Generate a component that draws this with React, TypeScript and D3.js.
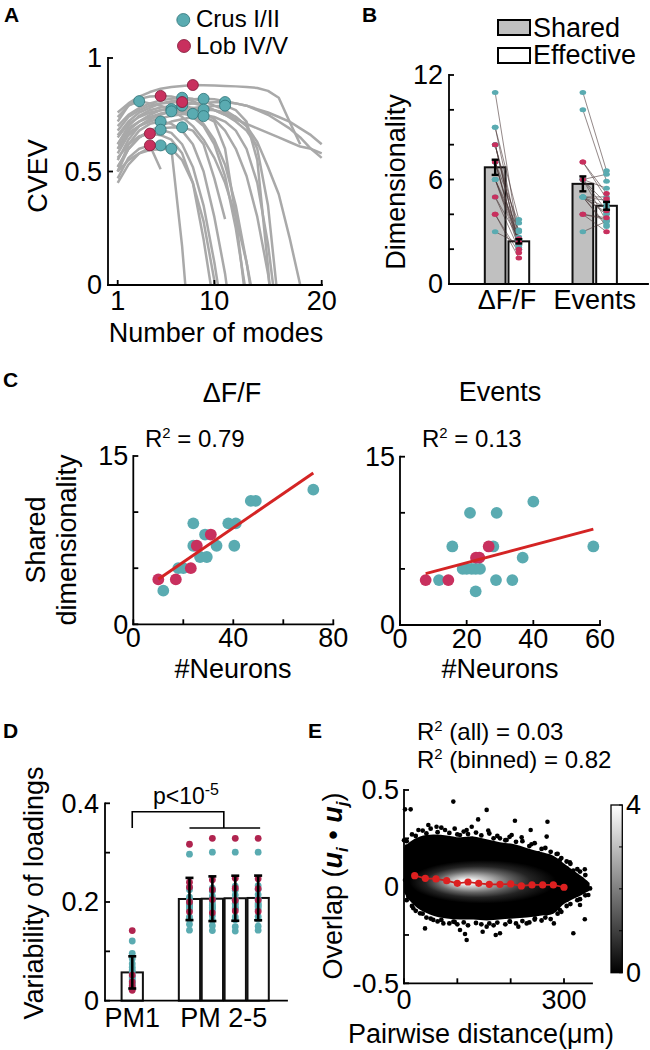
import React from "react";
import * as d3 from "d3";

const FONT = "'Liberation Sans', Arial, Helvetica, sans-serif";
const TEAL = "#5aabb1";
const TEAL_EDGE = "#2f7479";
const RED = "#c8305e";
const RED_EDGE = "#7e1636";
const RED_D = "#b0244f";
const GRAY = "#a9a9a9";
const FIT = "#d42424";
const SW = 1.8;
const FS = 27;

// ---------------- Panel A data ----------------
const regionA = ["c","r","r","c","c","r","c","c","c","c","c","c","c","c","c","c","c","r","r","c","c"];
const cvevCurves: number[][] = [
  [0.72,0.79,0.81,0.80,0.79,0.77,0.74,0.70,0.64,0.56,0.45,0.30,0.10,-0.15],
  [0.74,0.79,0.82,0.83,0.833,0.83,0.82,0.81,0.79,0.77,0.75,0.73,0.71,0.69,0.67,0.65,0.63,0.61,0.60,0.58],
  [0.76,0.80,0.83,0.85,0.865,0.872,0.877,0.881,0.880,0.879,0.877,0.875,0.872,0.868,0.855,0.825,0.72,0.62],
  [0.70,0.75,0.78,0.80,0.813,0.821,0.825,0.82,0.81,0.79,0.77,0.74,0.70,0.63,0.52,0.40,0.21,0.0,-0.2],
  [0.62,0.70,0.745,0.77,0.782,0.788,0.79,0.78,0.76,0.73,0.68,0.60,0.48,0.30,0.05,-0.3],
  [0.68,0.74,0.77,0.79,0.80,0.804,0.806,0.80,0.79,0.77,0.75,0.72,0.68,0.61],
  [0.66,0.72,0.76,0.78,0.80,0.81,0.815,0.818,0.82,0.818,0.81,0.80,0.79,0.775,0.76,0.74,0.72,0.69,0.66,0.62],
  [0.60,0.68,0.72,0.75,0.77,0.78,0.79,0.80,0.803,0.805,0.806,0.80,0.79,0.77,0.75,0.72,0.69,0.65,0.60,0.56],
  [0.58,0.66,0.70,0.73,0.75,0.765,0.775,0.78,0.785,0.788,0.79,0.77,0.72,0.55,0.08,-0.5],
  [0.65,0.71,0.74,0.76,0.77,0.775,0.77,0.75,0.71,0.64,0.53,0.35,0.10,-0.2],
  [0.55,0.64,0.70,0.73,0.755,0.765,0.76,0.74,0.70,0.62,0.48,0.25,-0.05],
  [0.60,0.67,0.70,0.72,0.735,0.745,0.752,0.754,0.75,0.74,0.72,0.68,0.60,0.45,0.18,-0.2],
  [0.62,0.69,0.72,0.74,0.755,0.763,0.768,0.771,0.773,0.77,0.76,0.74,0.70,0.60,0.35,-0.1],
  [0.50,0.60,0.65,0.68,0.70,0.72,0.73,0.74,0.744,0.72,0.60,0.30,-0.1],
  [0.50,0.62,0.68,0.71,0.72,0.71,0.68,0.62,0.50,0.30,0.05,-0.3],
  [0.52,0.60,0.65,0.675,0.684,0.67,0.62,0.52,0.35,0.10,-0.2],
  [0.52,0.60,0.65,0.68,0.69,0.694,0.695,0.68,0.62,0.47,0.29],
  [0.56,0.62,0.655,0.667,0.66,0.64,0.58,0.45,0.20,-0.1],
  [0.47,0.56,0.60,0.615,0.51],
  [0.45,0.53,0.58,0.605,0.615,0.60,0.55,0.45,0.28,0.02,-0.3],
  [0.50,0.55,0.58,0.595,0.598,0.60,0.17,-0.4],
];
const aXTicks = [1, 10, 20];
const aYTicks = [0, 0.5, 1];
const aYLabels = ["0", "0.5", "1"];

// ---------------- Panel B data ----------------
const bGroups = ["ΔF/F", "Events"];
const regionBdff = ["c","c","c","r","c","c","r","c","c","c","c","c","c","c","r","c","r","r","c","c"];
const dffShared = [11,9,9,8,8,8,7,7,7,7,6,6,6,6,5,5,4,4,3,8];
const dffEffective = [2.5,2.5,3.7,2.4,3.0,2.2,2.0,3.5,2.2,2.3,3.1,2.7,2.1,2.4,2.6,2.0,1.5,1.8,2.3,2.2];
const regionBev = ["c","c","r","r","c","c","r","c","c","c","c","c","c","c","c","c","r","r","c","c"];
const evShared = [11,10,7,7,6,6,6,6,6,5,5,5,5,5,5,5,4,4,4,3];
const evEffective = [6.5,5.9,5.2,4.9,6.3,5.5,4.2,4.6,3.6,4.8,4.0,3.4,4.4,3.3,5.0,4.1,3.8,3.0,3.7,3.6];
const bYTicks = [0,2,4,6,8,10,12];
const bYLabels = [0,6,12];

// ---------------- Panel C data ----------------
const dffNeurons = [72,47,49,24,38,41,28.7,31,24,25.4,33.3,40.4,26.7,29.4,18,20,23,10,17,12];
const dffSharedC = [12,11,11,9,9,9,8,8,7,7,7,7,6,6,5,5,5,4,4,3];
const dffRegionC = ["c","c","c","c","c","c","c","r","c","r","c","c","c","c","c","c","r","r","r","c"];
const evNeurons = [40,21,29,15.7,28,58,36.8,18.8,20,21.5,22.7,24,11.7,28.8,33.7,22.7,26.6,22.8,23.8,7.7,14.5];
const evSharedC = [11,10,10,7,7,7,6,5,5,5,5,5,4,4,4,3,7,6,6,4,4];
const evRegionC = ["c","c","c","c","c","c","c","c","c","c","c","c","c","c","c","c","r","r","r","r","r"];
const cYTicks = [0,5,10,15];
const cYLabels = [0,15];
const cLeftXTicks = [0,20,40,60,80];
const cLeftXLabels = [0,40,80];
const cRightXTicks = [0,20,40,60];
const r2Dff = "0.79";
const r2Ev = "0.13";

// ---------------- Panel D data ----------------
const pmNames = ["PM1","PM2","PM3","PM4","PM5"];
const pmPos = [1, 3.5, 4.5, 5.5, 6.5];
const regionD = ["r","c","r","c","c","c","r","c","c","c","c","r","c","c","c","r","c","c","c","c"];
const pm1 = [0.142,0.121,0.052,0.096,0.085,0.075,0.038,0.068,0.062,0.058,0.050,0.021,0.047,0.044,0.040,0.030,0.035,0.032,0.027,0.024];
const pm2 = [0.317,0.297,0.240,0.230,0.225,0.210,0.230,0.200,0.195,0.190,0.205,0.200,0.195,0.190,0.185,0.180,0.170,0.165,0.155,0.143];
const pm3 = [0.329,0.301,0.245,0.228,0.222,0.212,0.225,0.202,0.196,0.188,0.207,0.205,0.193,0.189,0.184,0.178,0.172,0.163,0.152,0.142];
const pm4 = [0.329,0.301,0.248,0.232,0.224,0.214,0.228,0.203,0.197,0.190,0.206,0.203,0.196,0.188,0.186,0.182,0.170,0.164,0.150,0.141];
const pm5 = [0.329,0.301,0.247,0.233,0.226,0.215,0.227,0.204,0.198,0.192,0.207,0.204,0.195,0.190,0.185,0.181,0.171,0.165,0.151,0.143];
const dYTicks = [0,0.1,0.2,0.3,0.4];
const dYLabels = [0,0.2,0.4];
const sigBracket = [0.35, 0.383];

// ---------------- Panel E data ----------------
const binDist = [20,40,60,80,100,120,140,160,180,200,220,240,260,280,300];
const binOverlap = [0.057,0.043,0.040,0.031,0.017,0.024,0.017,0.012,0.012,0.014,0.004,0.009,0.009,0.009,-0.003];
const cloudX = [0,10,30,55,80,105,130,155,180,205,230,255,280,300,320,335,348];
const cloudTop = [0.20,0.23,0.26,0.27,0.265,0.255,0.26,0.245,0.23,0.22,0.20,0.18,0.16,0.12,0.08,0.05,0.02];
const cloudBottom = [-0.03,-0.07,-0.12,-0.15,-0.165,-0.17,-0.17,-0.175,-0.17,-0.165,-0.16,-0.15,-0.14,-0.09,-0.06,-0.04,-0.02];
const edgeX = [5,15,22,35,42,50,63,70,85,95,100,112,120,135,145,160,168,175,190,198,210,222,235,245,258,265,275,288,295,305,312,325,330,340];
const edgeTop = [0.235,0.27,0.262,0.29,0.275,0.30,0.282,0.305,0.278,0.30,0.27,0.285,0.272,0.28,0.265,0.275,0.25,0.262,0.24,0.258,0.232,0.235,0.21,0.225,0.195,0.20,0.18,0.17,0.148,0.13,0.118,0.09,0.078,0.06];
const edgeBottom = [-0.07,-0.10,-0.125,-0.14,-0.16,-0.165,-0.18,-0.172,-0.19,-0.183,-0.195,-0.185,-0.20,-0.188,-0.195,-0.19,-0.20,-0.186,-0.195,-0.18,-0.19,-0.178,-0.185,-0.17,-0.175,-0.16,-0.168,-0.14,-0.13,-0.10,-0.09,-0.07,-0.065,-0.045];
const outX = [1.9,12.5,92.5,155,139,208,269,237.5,267.5,192.5,220.6,45.6,61,27,117.5,127,158,252,286,311,317.5,339,333,349,335,345.6,330,339,317.5,281,245.6,214.4,180,172,147.5,117.5,114.4,105,73.8,39.4,30,17.5,8,1.9,5,0,77,105,180,201.9,239,292.5,305,317.5,305,292.5,267.5,230,198.8,155,55,92.5];
const outY = [0.40,0.40,0.44,0.397,0.348,0.341,0.336,0.293,0.259,0.241,0.255,0.319,0.31,0.293,0.293,0.31,0.29,0.172,0.169,0.126,0.083,0.09,0.038,-0.009,-0.026,-0.043,-0.095,-0.169,-0.241,-0.19,-0.164,-0.207,-0.241,-0.25,-0.233,-0.276,-0.245,-0.224,-0.19,-0.216,-0.138,-0.112,-0.052,0.034,0.207,0.24,0.293,0.267,0.25,0.267,0.219,0.138,0.095,-0.017,-0.069,-0.121,-0.138,-0.19,-0.181,-0.207,-0.172,-0.181];
const coreCenter = [148, 0.025];
const coreRadius = [138, 0.112];
const eYTicks = [-0.5,-0.25,0,0.25,0.5];
const eYLabels = ["-0.5","0","0.5"];
const eXTicks = [0,100,200,300];
const eXLabels = [0,300];
const cbTicks = [0,1,2,3,4];
const cbLabels = [0,4];

const col = (r: string) => (r === "r" ? RED : TEAL);

function LeftAxis(props: { x: number; y0: number; y1: number; scale: (v: number) => number; ticks: number[]; labels: { v: number; t: string }[]; len?: number; gap?: number; fs?: number }) {
  const { x, y0, y1, scale, ticks, labels, len = 5, gap = 6, fs = FS } = props;
  return (
    <g>
      <line x1={x} x2={x} y1={y0} y2={y1} stroke="#000" strokeWidth={SW} strokeLinecap="square" />
      {ticks.map((v, i) => (
        <line key={"t" + i} x1={x} x2={x + len} y1={scale(v)} y2={scale(v)} stroke="#000" strokeWidth={SW} />
      ))}
      {labels.map((l, i) => (
        <text key={"l" + i} x={x - gap} y={scale(l.v)} dy="0.35em" textAnchor="end" fontSize={fs}>{l.t}</text>
      ))}
    </g>
  );
}

function BottomAxis(props: { y: number; x0: number; x1: number; scale: (v: number) => number; ticks: number[]; labels: { v: number; t: string }[]; len?: number; off?: number; fs?: number }) {
  const { y, x0, x1, scale, ticks, labels, len = 5, off = 25, fs = FS } = props;
  return (
    <g>
      <line x1={x0} x2={x1} y1={y} y2={y} stroke="#000" strokeWidth={SW} strokeLinecap="square" />
      {ticks.map((v, i) => (
        <line key={"t" + i} x1={scale(v)} x2={scale(v)} y1={y} y2={y - len} stroke="#000" strokeWidth={SW} />
      ))}
      {labels.map((l, i) => (
        <text key={"l" + i} x={scale(l.v)} y={y + off} textAnchor="middle" fontSize={fs}>{l.t}</text>
      ))}
    </g>
  );
}

function linFit(xs: number[], ys: number[]) {
  const mx = d3.mean(xs) as number;
  const my = d3.mean(ys) as number;
  let sxy = 0, sxx = 0;
  xs.forEach((x, i) => { sxy += (x - mx) * (ys[i] - my); sxx += (x - mx) * (x - mx); });
  const b = sxy / sxx;
  return { a: my - b * mx, b };
}

function R2Label({ x, y, rest, anchor = "start", fs = 24 }: { x: number; y: number; rest: string; anchor?: string; fs?: number }) {
  return (
    <text x={x} y={y} fontSize={fs} textAnchor={anchor as any}>
      R<tspan fontSize={fs * 0.62} dy={-fs * 0.38}>2</tspan><tspan dy={fs * 0.38}>{rest}</tspan>
    </text>
  );
}

export default function App() {
  // ---------- Panel A ----------
  const xA = d3.scaleLinear().domain([1, 20]).range([117.7, 321.7]);
  const yA = d3.scaleLinear().domain([0, 1]).range([285, 58]);
  const lineA = d3.line<number>().x((_, i) => xA(i + 1)).y((v) => yA(v));
  const peaks = cvevCurves.map((c, k) => {
    const i = d3.maxIndex(c);
    return { x: xA(i + 1), y: yA(c[i]), r: regionA[k] };
  });

  // ---------- Panel B ----------
  const xB = d3.scaleLinear().domain([0, 3]).range([419.3, 682.4]);
  const yB = d3.scaleLinear().domain([0, 12]).range([284, 75]);
  const barW = xB(0.236) - xB(0);
  const off = xB(0.135) - xB(0);
  const sem = (a: number[]) => (d3.deviation(a) as number) / Math.sqrt(a.length);
  const bSets = [
    { g: 1, shared: dffShared, eff: dffEffective, reg: regionBdff },
    { g: 2, shared: evShared, eff: evEffective, reg: regionBev },
  ];

  // ---------- Panel C ----------
  const xC1 = d3.scaleLinear().domain([0, 80]).range([133.3, 333.3]);
  const yC1 = d3.scaleLinear().domain([0, 15]).range([624.3, 456]);
  const xC2 = d3.scaleLinear().domain([0, 60]).range([400, 600]);
  const yC2 = d3.scaleLinear().domain([0, 15]).range([625, 456.7]);
  const fit1 = linFit(dffNeurons, dffSharedC);
  const fit2 = linFit(evNeurons, evSharedC);
  const [f1x0, f1x1] = d3.extent(dffNeurons) as [number, number];
  const [f2x0, f2x1] = d3.extent(evNeurons) as [number, number];

  // ---------- Panel D ----------
  const xD = d3.scaleLinear().domain([-0.19, 7.76]).range([105, 287]);
  const yD = d3.scaleLinear().domain([0, 0.4]).range([1000.7, 803.3]);
  const pms = [pm1, pm2, pm3, pm4, pm5];
  const dBarW = xD(0.93) - xD(0);

  // ---------- Panel E ----------
  const xE = d3.scaleLinear().domain([0, 300]).range([404, 564]);
  const yE = d3.scaleLinear().domain([-0.5, 0.5]).range([983.3, 790]);
  const cloudArea = d3.area<number>()
    .x((_, i) => xE(cloudX[i]))
    .y0((_, i) => yE(cloudBottom[i]))
    .y1((_, i) => yE(cloudTop[i]))
    .curve(d3.curveCatmullRom);
  const binLine = d3.line<number>().x((_, i) => xE(binDist[i])).y((v) => yE(v));
  const cbY = d3.scaleLinear().domain([0, 4]).range([972.7, 805]);

  const redOnTop = <T,>(arr: T[], reg: string[]) => {
    const idx = arr.map((_, i) => i);
    return [...idx.filter((i) => reg[i] !== "r"), ...idx.filter((i) => reg[i] === "r")];
  };

  return (
    <svg width={650} height={1050} viewBox="0 0 650 1050" style={{ position: "absolute", left: 0, top: 0, background: "#fff" }} fontFamily={FONT}>
      <defs>
        <clipPath id="clipA"><rect x={108} y={56} width={216} height={229} /></clipPath>
        <clipPath id="clipCloud"><path d={cloudArea(cloudX) as string} /></clipPath>
        <radialGradient id="coreGrad" cx="0.5" cy="0.5" r="0.5" fx="0.38" fy="0.5">
          <stop offset="0" stopColor="#ffffff" />
          <stop offset="0.12" stopColor="#efefef" />
          <stop offset="0.3" stopColor="#b0b0b0" />
          <stop offset="0.5" stopColor="#646464" />
          <stop offset="0.72" stopColor="#242424" />
          <stop offset="1" stopColor="#000000" />
        </radialGradient>
        <linearGradient id="cbGrad" x1="0" y1="1" x2="0" y2="0">
          <stop offset="0" stopColor="#000" />
          <stop offset="1" stopColor="#fff" />
        </linearGradient>
      </defs>
      <rect x={0} y={0} width={650} height={1050} fill="#fff" />

      {/* ================= Panel A ================= */}
      <text x={4} y={22} fontSize={21} fontWeight="bold">A</text>
      <circle cx={183.3} cy={20} r={6.5} fill={TEAL} stroke={TEAL_EDGE} strokeWidth={0.8} />
      <text x={196} y={27} fontSize={24}>Crus I/II</text>
      <circle cx={184} cy={46} r={6.5} fill={RED} stroke={RED_EDGE} strokeWidth={0.8} />
      <text x={196} y={54} fontSize={24}>Lob IV/V</text>
      <g clipPath="url(#clipA)">
        {cvevCurves.map((c, k) => (
          <path key={k} d={lineA(c) as string} fill="none" stroke={GRAY} strokeWidth={2.5} strokeLinejoin="round" />
        ))}
      </g>
      {redOnTop(peaks, regionA).map((k) => (
        <circle key={k} cx={peaks[k].x} cy={peaks[k].y} r={5.5} fill={col(peaks[k].r)} stroke={peaks[k].r === "r" ? RED_EDGE : TEAL_EDGE} strokeWidth={0.8} />
      ))}
      <LeftAxis x={108} y0={285} y1={58} scale={yA} ticks={aYTicks} labels={aYTicks.map((v, i) => ({ v, t: aYLabels[i] }))} />
      <BottomAxis y={285} x0={108} x1={322} scale={xA} ticks={aXTicks} labels={aXTicks.map((v) => ({ v, t: String(v) }))} />
      <text transform="translate(47,176) rotate(-90)" textAnchor="middle" fontSize={FS}>CVEV</text>
      <text x={216} y={342} textAnchor="middle" fontSize={FS}>Number of modes</text>

      {/* ================= Panel B ================= */}
      <text x={362} y={22} fontSize={21} fontWeight="bold">B</text>
      <rect x={498} y={20} width={32} height={15} fill="#c0c0c0" stroke="#000" strokeWidth={2} />
      <text x={533} y={37} fontSize={FS}>Shared</text>
      <rect x={498} y={48} width={32} height={15} fill="#fff" stroke="#000" strokeWidth={2} />
      <text x={533} y={64} fontSize={FS}>Effective</text>
      {bSets.map((s) => {
        const ms = d3.mean(s.shared) as number;
        const me = d3.mean(s.eff) as number;
        const xs = xB(s.g) - off;
        const xe = xB(s.g) + off;
        const ss = sem(s.shared);
        const se = sem(s.eff);
        return (
          <g key={s.g}>
            <rect x={xs - barW / 2} y={yB(ms)} width={barW} height={yB(0) - yB(ms)} fill="#c0c0c0" stroke="#111" strokeWidth={2} />
            <rect x={xe - barW / 2} y={yB(me)} width={barW} height={yB(0) - yB(me)} fill="#fff" stroke="#111" strokeWidth={2} />
            {s.shared.map((v, i) => (
              <line key={"l" + i} x1={xs} y1={yB(v)} x2={xe} y2={yB(s.eff[i])} stroke="#4b3838" strokeWidth={0.7} opacity={0.85} />
            ))}
            {redOnTop(s.shared, s.reg).map((i) => (
              <g key={"d" + i}>
                <ellipse cx={xs} cy={yB(s.shared[i])} rx={3.3} ry={2.5} fill={col(s.reg[i])} />
                <ellipse cx={xe} cy={yB(s.eff[i])} rx={3.3} ry={2.5} fill={col(s.reg[i])} />
              </g>
            ))}
            {[[xs, ms, ss], [xe, me, se]].map(([x, m, e], j) => (
              <g key={"e" + j} stroke="#000" strokeWidth={2.4}>
                <line x1={x} x2={x} y1={yB(m + e)} y2={yB(m - e)} />
                <line x1={x - 3.5} x2={x + 3.5} y1={yB(m + e)} y2={yB(m + e)} />
                <line x1={x - 3.5} x2={x + 3.5} y1={yB(m - e)} y2={yB(m - e)} />
              </g>
            ))}
          </g>
        );
      })}
      <LeftAxis x={449} y0={284} y1={75} scale={yB} ticks={bYTicks} labels={bYLabels.map((v) => ({ v, t: String(v) }))} />
      <BottomAxis y={284} x0={449} x1={648} scale={xB} ticks={[]} labels={bGroups.map((t, i) => ({ v: i + 1, t }))} />
      <text transform="translate(405,182) rotate(-90)" textAnchor="middle" fontSize={FS}>Dimensionality</text>

      {/* ================= Panel C ================= */}
      <text x={3} y={387} fontSize={21} fontWeight="bold">C</text>
      <text x={232} y={402} textAnchor="middle" fontSize={FS}>ΔF/F</text>
      <text x={500} y={401} textAnchor="middle" fontSize={FS}>Events</text>
      <R2Label x={145} y={447} rest={" = " + r2Dff} />
      <R2Label x={422} y={447} rest={" = " + r2Ev} />
      {redOnTop(dffNeurons, dffRegionC).map((i) => (
        <circle key={"c1" + i} cx={xC1(dffNeurons[i])} cy={yC1(dffSharedC[i])} r={5.9} fill={col(dffRegionC[i])} />
      ))}
      <line x1={xC1(f1x0)} x2={xC1(f1x1)} y1={yC1(fit1.a + fit1.b * f1x0)} y2={yC1(fit1.a + fit1.b * f1x1)} stroke={FIT} strokeWidth={3} />
      <LeftAxis x={133.3} y0={624.3} y1={456} scale={yC1} ticks={cYTicks} labels={cYLabels.map((v) => ({ v, t: String(v) }))} gap={5} />
      <BottomAxis y={624.3} x0={133.3} x1={333.3} scale={xC1} ticks={cLeftXTicks} labels={cLeftXLabels.map((v) => ({ v, t: String(v) }))} off={23} />
      <text transform="translate(45,540) rotate(-90)" textAnchor="middle" fontSize={FS}>Shared</text>
      <text transform="translate(76,540) rotate(-90)" textAnchor="middle" fontSize={FS}>dimensionality</text>
      <text x={233} y={678} textAnchor="middle" fontSize={FS}>#Neurons</text>

      {redOnTop(evNeurons, evRegionC).map((i) => (
        <circle key={"c2" + i} cx={xC2(evNeurons[i])} cy={yC2(evSharedC[i])} r={5.9} fill={col(evRegionC[i])} />
      ))}
      <line x1={xC2(f2x0)} x2={xC2(f2x1)} y1={yC2(fit2.a + fit2.b * f2x0)} y2={yC2(fit2.a + fit2.b * f2x1)} stroke={FIT} strokeWidth={3} />
      <LeftAxis x={400} y0={625} y1={456.7} scale={yC2} ticks={cYTicks} labels={cYLabels.map((v) => ({ v, t: String(v) }))} gap={5} />
      <BottomAxis y={625} x0={400} x1={600} scale={xC2} ticks={cRightXTicks} labels={cRightXTicks.map((v) => ({ v, t: String(v) }))} off={23} />
      <text x={500} y={678} textAnchor="middle" fontSize={FS}>#Neurons</text>

      {/* ================= Panel D ================= */}
      <text x={3} y={738} fontSize={21} fontWeight="bold">D</text>
      {pms.map((vals, k) => {
        const m = d3.mean(vals) as number;
        const sd = d3.deviation(vals) as number;
        const cx = xD(pmPos[k]);
        return (
          <g key={pmNames[k]}>
            <rect x={cx - dBarW / 2} y={yD(m)} width={dBarW} height={yD(0) - yD(m)} fill="#fff" stroke="#111" strokeWidth={2} />
            {redOnTop(vals, regionD).map((i) => (
              <circle key={i} cx={cx} cy={yD(vals[i])} r={3.4} fill={regionD[i] === "r" ? RED_D : TEAL} />
            ))}
            <g stroke="#000" strokeWidth={2.6}>
              <line x1={cx} x2={cx} y1={yD(m + sd)} y2={yD(m - sd)} />
              <line x1={cx - 4} x2={cx + 4} y1={yD(m + sd)} y2={yD(m + sd)} />
              <line x1={cx - 4} x2={cx + 4} y1={yD(m - sd)} y2={yD(m - sd)} />
            </g>
          </g>
        );
      })}
      <path d={`M${xD(pmPos[0])},${yD(sigBracket[0])}V${yD(sigBracket[1])}H${xD((pmPos[1] + pmPos[4]) / 2)}V${yD(sigBracket[0])}`} fill="none" stroke="#000" strokeWidth={1.6} />
      <line x1={xD(pmPos[1])} x2={xD(pmPos[4]) + 2} y1={yD(sigBracket[0])} y2={yD(sigBracket[0])} stroke="#000" strokeWidth={1.6} />
      <text x={186} y={804} textAnchor="middle" fontSize={23}>p&lt;10<tspan fontSize={16} dy={-9}>-5</tspan></text>
      <LeftAxis x={105} y0={1000.7} y1={803.3} scale={yD} ticks={dYTicks} labels={dYLabels.map((v) => ({ v, t: String(v) }))} />
      <BottomAxis y={1000.7} x0={105} x1={287} scale={xD} ticks={[]} labels={[{ v: pmPos[0], t: "PM1" }, { v: (pmPos[1] + pmPos[4]) / 2, t: "PM 2-5" }]} off={26} />
      <text transform="translate(43,893) rotate(-90)" textAnchor="middle" fontSize={FS}>Variability of loadings</text>

      {/* ================= Panel E ================= */}
      <text x={308} y={738} fontSize={21} fontWeight="bold">E</text>
      <R2Label x={417} y={740} rest=" (all) = 0.03" />
      <R2Label x={417} y={768} rest=" (binned) = 0.82" />
      <path d={cloudArea(cloudX) as string} fill="#000" />
      <g clipPath="url(#clipCloud)">
        <ellipse cx={xE(coreCenter[0])} cy={yE(coreCenter[1])} rx={xE(coreCenter[0] + coreRadius[0]) - xE(coreCenter[0])} ry={yE(0) - yE(coreRadius[1])} fill="url(#coreGrad)" />
      </g>
      {edgeX.map((x, i) => (
        <g key={"ed" + i}>
          <circle cx={xE(x)} cy={yE(edgeTop[i])} r={2.4} fill="#000" />
          <circle cx={xE(x)} cy={yE(edgeBottom[i])} r={2.4} fill="#000" />
        </g>
      ))}
      {outX.map((x, i) => (
        <circle key={i} cx={xE(x)} cy={yE(outY[i])} r={2.3} fill="#000" />
      ))}
      <path d={binLine(binOverlap) as string} fill="none" stroke="#c81e1e" strokeWidth={1.6} />
      {binOverlap.map((v, i) => (
        <circle key={i} cx={xE(binDist[i])} cy={yE(v)} r={3.6} fill="#dd2020" />
      ))}
      <LeftAxis x={404} y0={983.3} y1={790} scale={yE} ticks={eYTicks} labels={eYTicks.filter((_, i) => i % 2 === 0).map((v, i) => ({ v, t: eYLabels[i] }))} gap={5} />
      <BottomAxis y={983.3} x0={404} x1={592} scale={xE} ticks={eXTicks} labels={eXLabels.map((v) => ({ v, t: String(v) }))} off={26} />
      <text x={481} y={1043} textAnchor="middle" fontSize={FS}>Pairwise distance(μm)</text>
      <text transform="translate(342,886) rotate(-90)" textAnchor="middle" fontSize={FS}>
        Overlap  (<tspan fontWeight="bold" fontStyle="italic">u</tspan><tspan fontSize={17} dy={6} fontWeight="bold" fontStyle="italic">i</tspan><tspan dy={-6}> • </tspan><tspan fontWeight="bold" fontStyle="italic">u</tspan><tspan fontSize={17} dy={6} fontWeight="bold" fontStyle="italic">j</tspan><tspan dy={-6}>)</tspan>
      </text>
      <rect x={611} y={805} width={11.3} height={167.7} fill="url(#cbGrad)" stroke="#000" strokeWidth={1.3} />
      {cbTicks.map((v) => (
        <line key={v} x1={622.3} x2={619} y1={cbY(v)} y2={cbY(v)} stroke="#000" strokeWidth={1} />
      ))}
      {cbLabels.map((v) => (
        <text key={v} x={626} y={cbY(v)} dy="0.35em" fontSize={FS}>{v}</text>
      ))}
    </svg>
  );
}
